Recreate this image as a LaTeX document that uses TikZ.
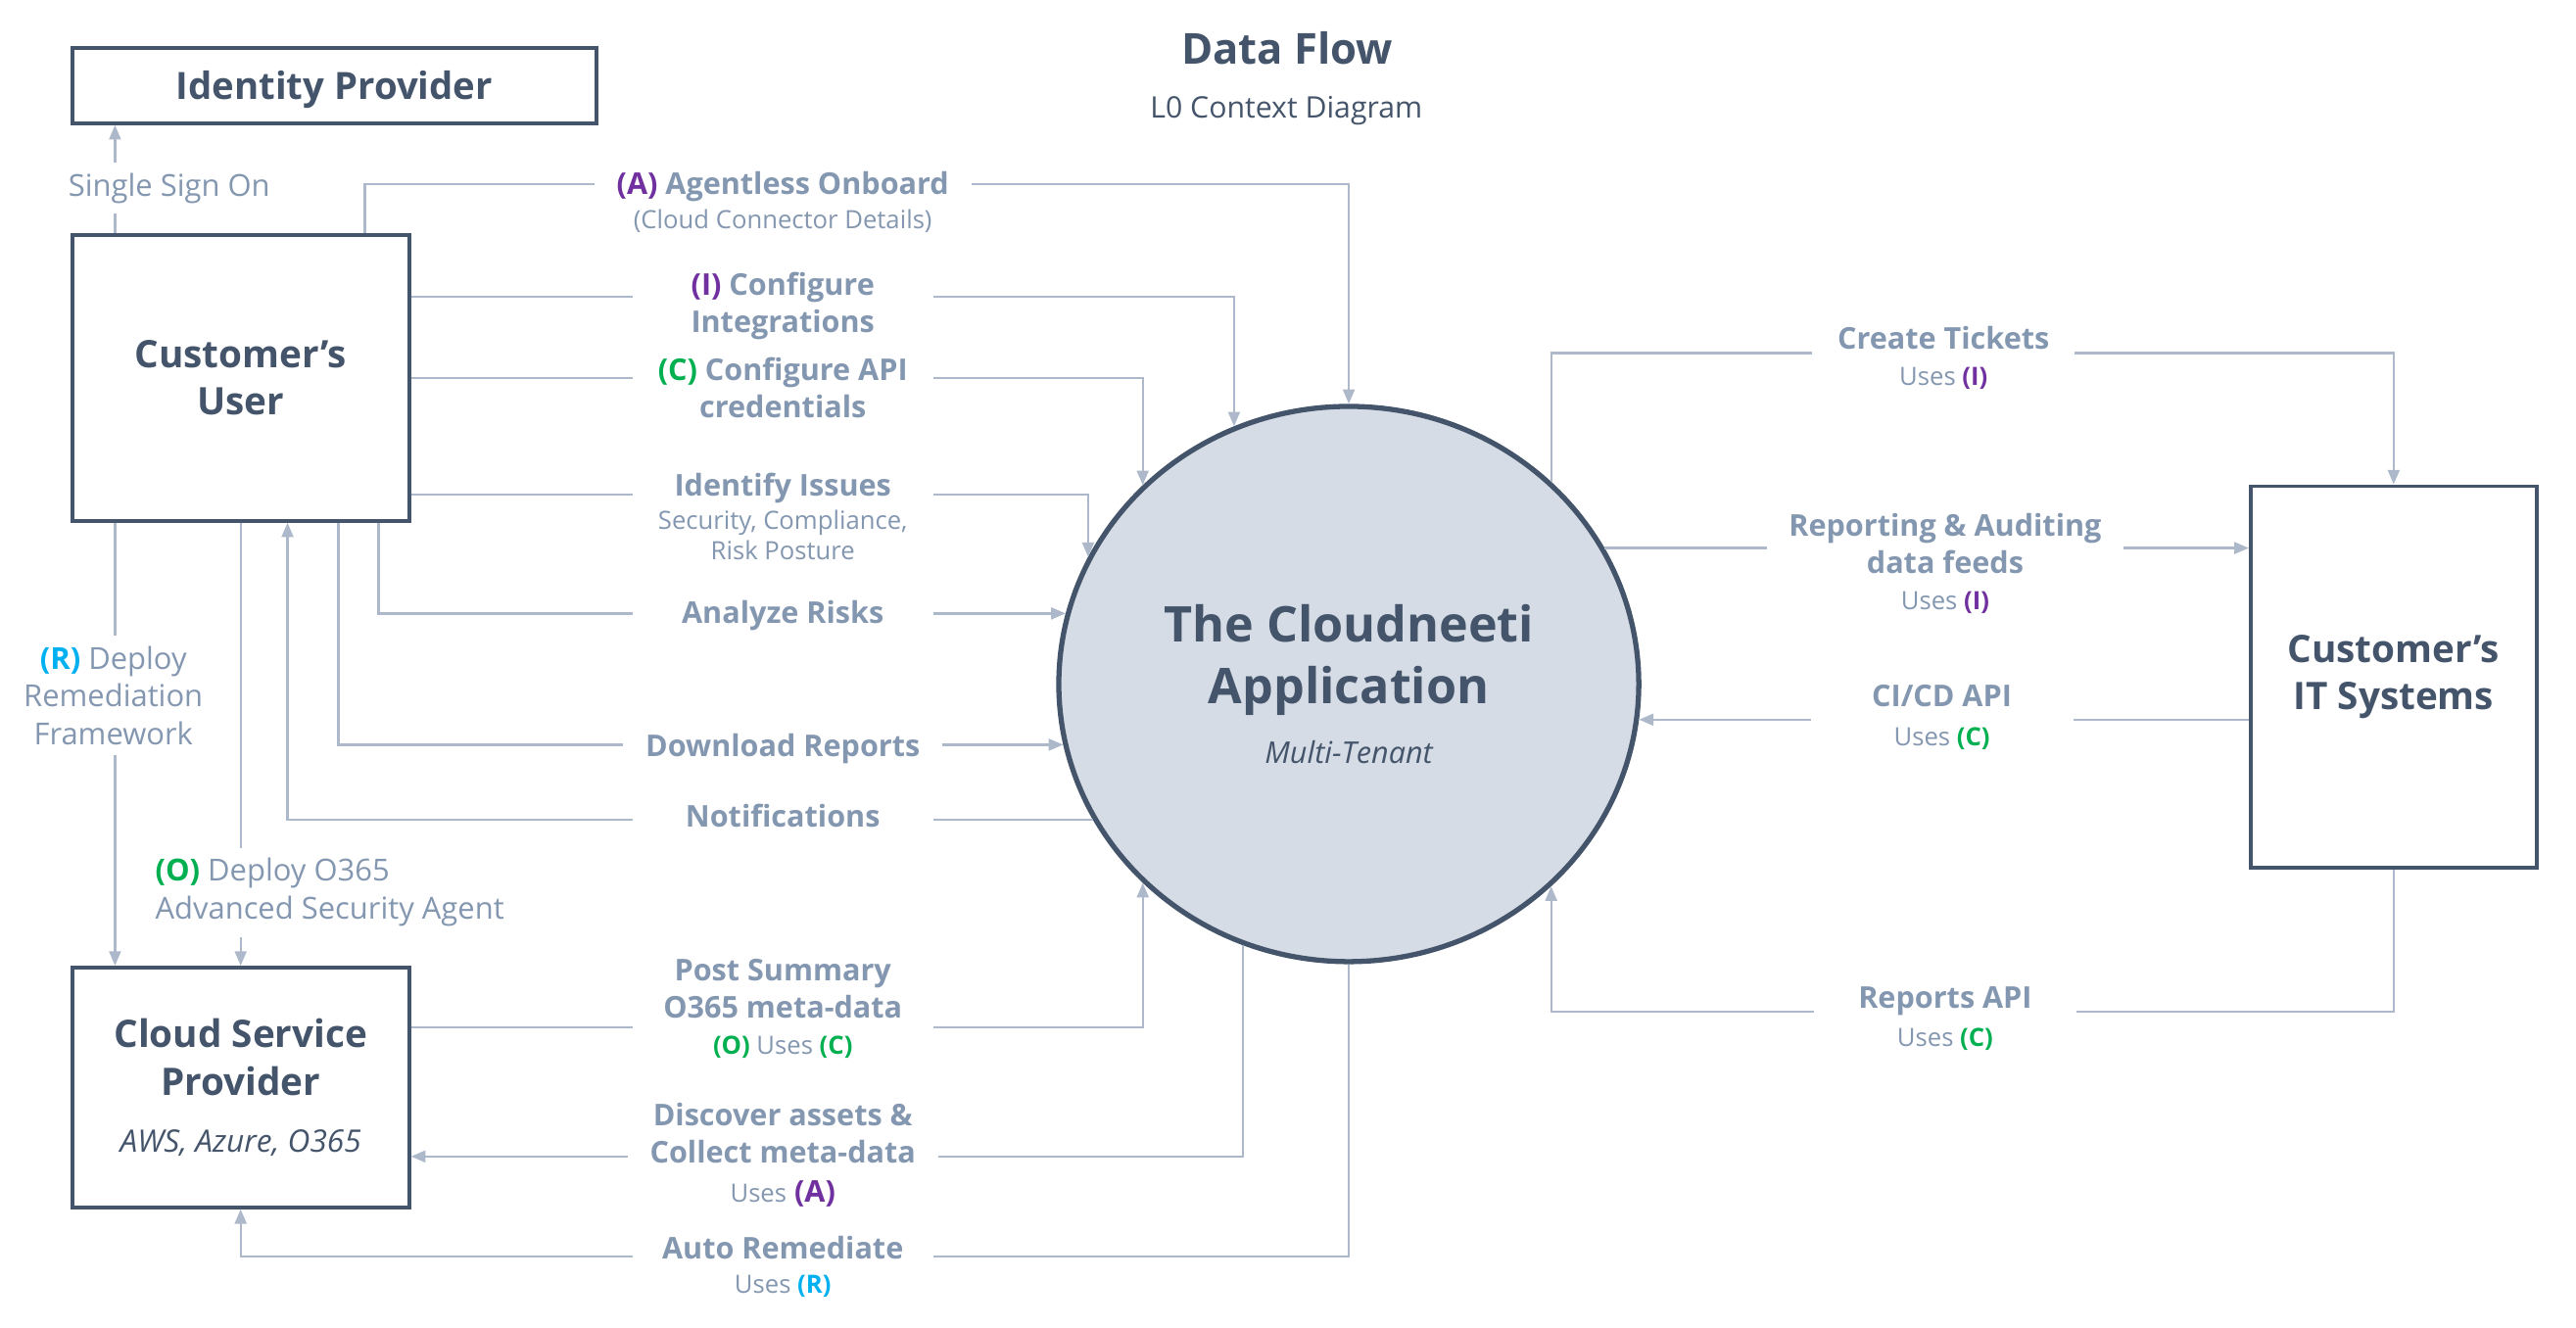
\documentclass[tikz,border=0pt]{standalone}
\usepackage{fontspec}
\setmainfont{Open Sans}
\usepackage{xcolor}
\usepackage{tikz}
\usetikzlibrary{arrows.meta,shapes.geometric,positioning}

\definecolor{boxcol}{HTML}{44546A}
\definecolor{linecol}{HTML}{ADB9CA}
\definecolor{lblcol}{HTML}{8497B0}
\definecolor{appfill}{HTML}{D6DCE5}
\definecolor{tagpurple}{HTML}{7030A0}
\definecolor{taggreen}{HTML}{00B050}
\definecolor{tagcyan}{HTML}{00B0F0}

\newcommand{\codeA}{\textcolor{tagpurple}{\bfseries(A)}}
\newcommand{\codeI}{\textcolor{tagpurple}{\bfseries(I)}}
\newcommand{\codeC}{\textcolor{taggreen}{\bfseries(C)}}
\newcommand{\codeO}{\textcolor{taggreen}{\bfseries(O)}}
\newcommand{\codeR}{\textcolor{tagcyan}{\bfseries(R)}}
\newcommand{\subtxt}[1]{{\fontsize{7.3}{9}\selectfont\mdseries #1}}

\begin{document}
\begin{tikzpicture}[
    x=0.01677cm, y=-0.01677cm,
    box/.style={draw=boxcol, line width=1.1pt, fill=white, text=boxcol, align=center, font=\fontsize{11}{13.8}\selectfont\bfseries},
    appnode/.style={ellipse, draw=boxcol, line width=1.5pt, fill=appfill, text=boxcol, align=center, font=\fontsize{14.3}{17.9}\selectfont\bfseries},
    flow/.style={draw=linecol, line width=0.65pt, -{Triangle[length=4.2pt,width=3.4pt]}},
    lbl/.style={fill=white, text=lblcol, align=center, minimum width=3.07cm, inner xsep=6.5pt, inner ysep=2pt, font=\fontsize{8.7}{10.9}\selectfont\bfseries},
    rlbl/.style={lbl, minimum width=2.68cm},
    vlbl/.style={fill=white, text=lblcol, align=center, inner xsep=1pt, inner ysep=3pt, font=\fontsize{8.8}{11}\selectfont}
]
\useasboundingbox (0,0) rectangle (1568,808);

% Title
\node[anchor=base, text=boxcol, font=\fontsize{12.4}{15}\selectfont\bfseries] (title) at (783.5,38.8) {Data Flow};
\node[anchor=base, text=boxcol, font=\fontsize{8.6}{10}\selectfont] (subtitle) at (783,71.6) {L0 Context Diagram};

% Entities
\node[box, minimum width=5.35cm, minimum height=0.771cm, text depth=0pt, font=\fontsize{10.9}{13}\selectfont\bfseries] (idp) at (203.5,52) {Identity Provider};
\node[box, minimum width=3.438cm, minimum height=2.918cm] (cu) at (146.5,230) {Customer’s\\User};
\node[box, minimum width=3.438cm, minimum height=2.448cm] (csp) at (146.5,662) {Cloud Service\\Provider\\[2.7pt]{\fontsize{9}{11}\selectfont\mdseries\itshape AWS, Azure, O365}};
\node[box, minimum width=2.918cm, minimum height=3.891cm] (its) at (1457,412) {Customer’s\\IT Systems};

% Process
\node[appnode, minimum width=5.92cm, minimum height=5.668cm] (app) at (821,416.4) {The Cloudneeti\\Application\\[-0.7pt]{\fontsize{8.7}{10}\selectfont\mdseries\itshape Multi-Tenant}};

% Flows on the left
\draw[flow] (cu.north -| 70,0) -- (idp.south -| 70,0);
\draw[flow] (cu.north -| 222,0) |- (app.north |- 0,112) -- (app.north);
\draw[flow] (cu.east |- 0,180.6) -| (app.114);
\draw[flow] (cu.east |- 0,230) -| (app.136);
\draw[flow] (cu.east |- 0,301) -| (app.154);
\draw[flow] (cu.south -| 230.5,0) |- (app.166);
\draw[flow] (cu.south -| 206,0) |- (app.192);
\draw[flow] (app.208) -| (cu.south -| 175,0);
\draw[flow] (cu.south -| 70,0) -- (csp.north -| 70,0);
\draw[flow] (cu.south) -- (csp.north);
\draw[flow] (csp.east |- 0,625.5) -| (app.224);
\draw[flow] (app.248) |- (csp.east |- 0,704);
\draw[flow] (app.south) |- (csp.south |- 0,765) -- (csp.south);

% Flows on the right
\draw[flow] (app.45) |- (its.north |- 0,215) -- (its.north);
\draw[flow] (app.28) -- (app.28 -| its.west);
\draw[flow] (app.353 -| its.west) -- (app.353);
\draw[flow] (its.south) |- (app.315 |- 0,616) -- (app.315);

% Labels
\node[vlbl, anchor=base] (sso) at (103,119.3) {Single Sign On};
\node[vlbl] (remfw) at (69,423.5) {\codeR{} Deploy\\Remediation\\Framework};
\node[vlbl, align=left, anchor=west] (agent) at (92,543.3) {\codeO{} Deploy O365\\Advanced Security Agent};

\node[lbl] (onboard) at (476.5,123.1) {\codeA{} Agentless Onboard\\[-0.9pt]\subtxt{(Cloud Connector Details)}};
\node[lbl] (integ) at (476.5,186.3) {\codeI{} Configure\\Integrations};
\node[lbl] (apicred) at (476.5,236) {\codeC{} Configure API\\credentials};
\node[lbl] (issues) at (476.5,314.6) {Identify Issues\\[-1.4pt]\subtxt{Security, Compliance,}\\[-1.9pt]\subtxt{Risk Posture}};
\node[lbl, anchor=base] (risks) at (476.5,379.3) {Analyze Risks};
\node[lbl, anchor=base] (dlreports) at (476.5,460.7) {Download Reports};
\node[lbl, anchor=base] (notify) at (476.5,503.3) {Notifications};
\node[lbl] (summary) at (476.5,614.1) {Post Summary\\O365 meta-data\\[-0.4pt]\subtxt{\codeO{} Uses \codeC}};
\node[lbl] (discover) at (476.5,703.1) {Discover assets \&\\Collect meta-data\\[0.5pt]\subtxt{Uses} \codeA};
\node[lbl] (autorem) at (476.5,771.1) {Auto Remediate\\[-0.9pt]\subtxt{Uses \codeR}};

\node[rlbl] (tickets) at (1183,217.6) {Create Tickets\\[-0.4pt]\subtxt{Uses \codeI}};
\node[rlbl] (auditing) at (1184,343.1) {Reporting \& Auditing\\data feeds\\[-0.4pt]\subtxt{Uses \codeI}};
\node[rlbl] (cicd) at (1182,436.6) {CI/CD API\\[0.5pt]\subtxt{Uses \codeC}};
\node[rlbl] (repapi) at (1184,620.1) {Reports API\\[0pt]\subtxt{Uses \codeC}};

\end{tikzpicture}
\end{document}
